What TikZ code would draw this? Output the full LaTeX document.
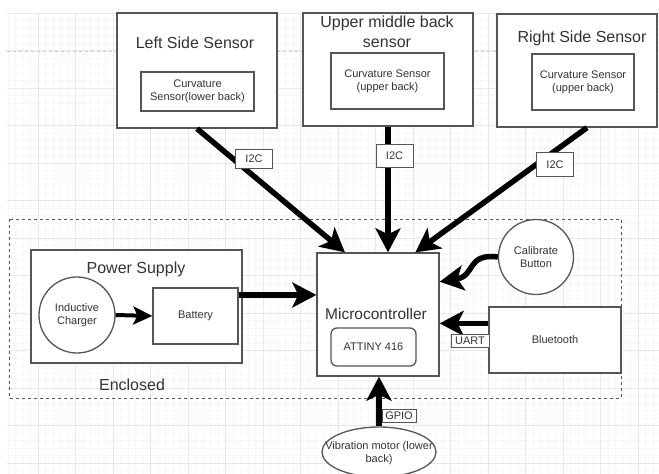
\documentclass[tikz,border=0pt]{standalone}
\usepackage{fontspec}
\setmainfont{Liberation Sans}
\usetikzlibrary{positioning}
\usetikzlibrary{arrows.meta,shapes.geometric}
\usepackage{xcolor}
\definecolor{ink}{HTML}{333333}
\definecolor{edge}{HTML}{555555}

\tikzset{
  box/.style={draw=edge, line width=1.3pt, fill=white, inner sep=0pt},
  title/.style={text=ink, font=\fontsize{16}{18}\selectfont, align=center},
  small/.style={text=ink, font=\fontsize{11}{13}\selectfont, align=center},
  tag/.style={box, line width=1pt, small, minimum width=37pt, minimum height=19pt},
  heavy/.style={line width=5.5pt, -{Stealth[length=24pt,width=25pt,inset=6pt]}},
}

\begin{document}
\begin{tikzpicture}[x=1pt, y=-1pt]
    \useasboundingbox (0,0) rectangle (659,474);
    % Background grid
    \begin{scope}[shift={(0.5,13)}]
        \draw[black!3, line width=0.5pt, step=7.5pt] (6.5,0) grid (658.5,461);
        \draw[black!9, line width=0.6pt, step=37.5pt] (6.5,0) grid (658.5,461);
    \end{scope}
    \draw[black!20, dashed, line width=0.8pt] (7,51) -- (659,51);

    % Sensors on the back
    \node[box, minimum width=160pt, minimum height=115pt] (lbox) at (197,70.5) {};
    \node[title] (ltitle) at (195,43) {Left Side Sensor};
    \node[box, small, minimum width=113pt, minimum height=39pt] (lcurv) at (197.5,91.5) {Curvature\\Sensor(lower back)};

    \node[box, minimum width=170pt, minimum height=113pt] (mbox) at (388,69.5) {};
    \node[title, font=\fontsize{16}{20}\selectfont] (mtitle) at (387,32) {Upper middle back\\sensor};
    \node[box, small, minimum width=113pt, minimum height=56pt] (mcurv) at (387.5,81) {Curvature Sensor\\(upper back)};

    \node[box, minimum width=160pt, minimum height=113pt] (rbox) at (577,70.5) {};
    \node[title] (rtitle) at (582,38) {Right Side Sensor};
    \node[box, small, minimum width=102pt, minimum height=56pt] (rcurv) at (583,82) {Curvature Sensor\\(upper back)};

    % Enclosed part
    \draw[edge, dashed, line width=1pt] (9,219) rectangle (621,398);
    \node[title] (encl) at (132,385) {Enclosed};

    \node[box, minimum width=211pt, minimum height=113pt] (psu) at (136.5,306.5) {};
    \node[title] (psutitle) at (136,269) {Power Supply};
    \node[box, circle, small, minimum size=76pt] (chg) at (77,315) {Inductive\\Charger};
    \node[box, small, minimum width=85pt, minimum height=56pt] (bat) at (195.5,316) {Battery};

    \node[box, minimum width=122pt, minimum height=123pt] (mc) at (378,314.5) {};
    \node[title, font=\fontsize{15.5}{18}\selectfont] (mctitle) at (376,314) {Microcontroller};
    \node[box, small, rounded corners=6pt, minimum width=85pt, minimum height=38pt] (tiny) at (373.5,347) {ATTINY 416};

    \node[box, circle, small, minimum size=75pt] (cal) at (536,257) {Calibrate\\Button};
    \node[box, small, minimum width=132pt, minimum height=66pt] (bt) at (555,340) {Bluetooth};

    \node[box, ellipse, minimum width=114pt, minimum height=50pt] (vib) at (379,452) {};
    \node[small] (vibtext) at (379,453) {Vibration motor (lower\\back)};

    % Connections
    \draw[heavy] (lbox.south) -- (mc.118);
    \draw[heavy] (mbox.south) -- (mbox.south |- mc.north);
    \draw[heavy] ([xshift=10pt]rbox.south) -- (mc.59);
    \draw[line width=4pt, -{Stealth[length=19pt,width=18pt,inset=4pt]}] (chg.east) -- (bat.west);
    \draw[heavy] (bat.26) -- (bat.26 -| mc.west);
    \draw[heavy] (cal.west) .. controls (466,253) and (476,276) .. (mc.28);
    \draw[heavy] (bt.166) -- (bt.166 -| mc.east);
    \draw[heavy] (vib.north) -- (vib.north |- mc.south);

    % Bus labels
    \node[tag] (i2cl) at (254,159) {I2C};
    \node[tag, minimum height=23pt] (i2cm) at (394.5,156) {I2C};
    \node[tag, minimum height=24pt] (i2cr) at (555,164.5) {I2C};
    \node[tag, minimum width=38pt, minimum height=13pt] (uart) at (470,340.5) {UART};
    \node[tag, minimum width=34pt, minimum height=13pt] (gpio) at (399,415.5) {GPIO};
\end{tikzpicture}
\end{document}
